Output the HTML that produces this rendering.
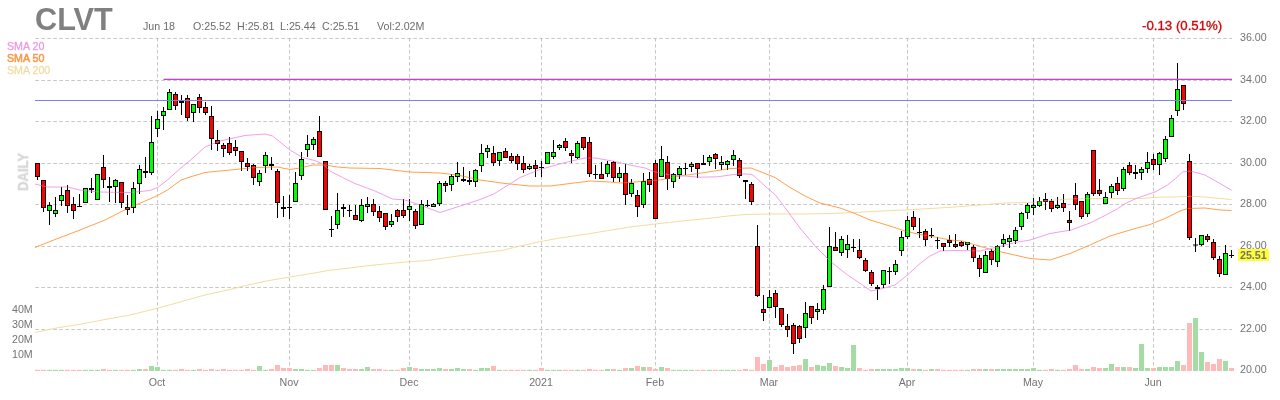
<!DOCTYPE html>
<html><head><meta charset="utf-8"><title>CLVT</title>
<style>
html,body{margin:0;padding:0;background:#fff;}
body{width:1280px;height:400px;position:relative;overflow:hidden;font-family:"Liberation Sans",sans-serif;}
div{position:absolute;white-space:nowrap;line-height:1;will-change:transform;}
.tk{left:35.2px;top:3.75px;font-size:30.67px;font-weight:bold;color:#808080;letter-spacing:0px;}
.hd{top:20.8px;font-size:10.67px;color:#6c6c6c;}
.chg{left:1141.5px;top:19px;font-size:13.25px;color:#cc0a0a;-webkit-text-stroke:0.35px #cc0a0a;}
.ax{left:1240px;font-size:10.67px;color:#737373;}
.mo{width:60px;text-align:center;top:376.8px;font-size:10.67px;color:#737373;}
.vl{left:12.2px;font-size:10.67px;color:#737373;}
.s{left:7px;font-size:10.67px;}
.daily{left:14.9px;top:191.1px;font-size:15px;font-weight:bold;color:#d9d9d9;-webkit-text-stroke:0.5px #d9d9d9;transform-origin:0 0;transform:rotate(-90deg) scaleX(0.875);}
.last{left:1238px;top:249px;width:31px;height:12px;background:#ffff33;}
.lastt{left:1240px;top:249.6px;font-size:10.67px;color:#737373;font-weight:bold;}
</style></head><body>
<svg width="1280" height="400" viewBox="0 0 1280 400" style="position:absolute;left:0;top:0">
<g stroke="#b9b9b9" stroke-width="0.8" stroke-dasharray="3.6,2.4" fill="none">
<path d="M35.3 38.5H1232"/>
<path d="M35.3 80.5H1232"/>
<path d="M35.3 121.5H1232"/>
<path d="M35.3 163.5H1232"/>
<path d="M35.3 204.5H1232"/>
<path d="M35.3 246.5H1232"/>
<path d="M35.3 287.5H1232"/>
<path d="M35.3 329.5H1232"/>
<path d="M35.3 370.5H1232"/>
<path d="M157.5 38V371"/>
<path d="M289.5 38V371"/>
<path d="M409.5 38V371"/>
<path d="M541.5 38V371"/>
<path d="M655.5 38V371"/>
<path d="M769.5 38V371"/>
<path d="M907.5 38V371"/>
<path d="M1033.5 38V371"/>
<path d="M1153.5 38V371"/>
</g>
<g shape-rendering="crispEdges">
<rect x="35" y="369.85" width="5" height="1.15" fill="#ffb9b9" shape-rendering="geometricPrecision"/>
<rect x="41" y="369.85" width="5" height="1.15" fill="#ffb9b9" shape-rendering="geometricPrecision"/>
<rect x="47" y="369.85" width="5" height="1.15" fill="#a5dca5" shape-rendering="geometricPrecision"/>
<rect x="53" y="369.85" width="5" height="1.15" fill="#a5dca5" shape-rendering="geometricPrecision"/>
<rect x="59" y="369.85" width="5" height="1.15" fill="#a5dca5" shape-rendering="geometricPrecision"/>
<rect x="65" y="369.85" width="5" height="1.15" fill="#ffb9b9" shape-rendering="geometricPrecision"/>
<rect x="71" y="369.85" width="5" height="1.15" fill="#ffb9b9" shape-rendering="geometricPrecision"/>
<rect x="77" y="369.85" width="5" height="1.15" fill="#ffb9b9" shape-rendering="geometricPrecision"/>
<rect x="83" y="369.85" width="5" height="1.15" fill="#a5dca5" shape-rendering="geometricPrecision"/>
<rect x="89" y="369.85" width="5" height="1.15" fill="#a5dca5" shape-rendering="geometricPrecision"/>
<rect x="95" y="369.85" width="5" height="1.15" fill="#a5dca5" shape-rendering="geometricPrecision"/>
<rect x="101" y="369" width="5" height="2" fill="#ffb9b9"/>
<rect x="107" y="369.85" width="5" height="1.15" fill="#ffb9b9" shape-rendering="geometricPrecision"/>
<rect x="113" y="369.85" width="5" height="1.15" fill="#a5dca5" shape-rendering="geometricPrecision"/>
<rect x="119" y="369.85" width="5" height="1.15" fill="#ffb9b9" shape-rendering="geometricPrecision"/>
<rect x="125" y="369.85" width="5" height="1.15" fill="#ffb9b9" shape-rendering="geometricPrecision"/>
<rect x="131" y="369.85" width="5" height="1.15" fill="#a5dca5" shape-rendering="geometricPrecision"/>
<rect x="137" y="369" width="5" height="2" fill="#a5dca5"/>
<rect x="143" y="369" width="5" height="2" fill="#ffb9b9"/>
<rect x="149" y="366" width="5" height="5" fill="#a5dca5"/>
<rect x="155" y="367" width="5" height="4" fill="#a5dca5"/>
<rect x="161" y="369.85" width="5" height="1.15" fill="#a5dca5" shape-rendering="geometricPrecision"/>
<rect x="167" y="369.85" width="5" height="1.15" fill="#a5dca5" shape-rendering="geometricPrecision"/>
<rect x="173" y="369.85" width="5" height="1.15" fill="#ffb9b9" shape-rendering="geometricPrecision"/>
<rect x="179" y="369" width="5" height="2" fill="#ffb9b9"/>
<rect x="185" y="369.85" width="5" height="1.15" fill="#ffb9b9" shape-rendering="geometricPrecision"/>
<rect x="191" y="369.85" width="5" height="1.15" fill="#a5dca5" shape-rendering="geometricPrecision"/>
<rect x="197" y="369" width="5" height="2" fill="#ffb9b9"/>
<rect x="203" y="369.85" width="5" height="1.15" fill="#ffb9b9" shape-rendering="geometricPrecision"/>
<rect x="209" y="369" width="5" height="2" fill="#ffb9b9"/>
<rect x="215" y="369.85" width="5" height="1.15" fill="#ffb9b9" shape-rendering="geometricPrecision"/>
<rect x="221" y="369" width="5" height="2" fill="#ffb9b9"/>
<rect x="227" y="369.85" width="5" height="1.15" fill="#ffb9b9" shape-rendering="geometricPrecision"/>
<rect x="233" y="369.85" width="5" height="1.15" fill="#ffb9b9" shape-rendering="geometricPrecision"/>
<rect x="239" y="369.85" width="5" height="1.15" fill="#ffb9b9" shape-rendering="geometricPrecision"/>
<rect x="245" y="369" width="5" height="2" fill="#ffb9b9"/>
<rect x="251" y="369.85" width="5" height="1.15" fill="#ffb9b9" shape-rendering="geometricPrecision"/>
<rect x="257" y="366" width="5" height="5" fill="#a5dca5"/>
<rect x="263" y="369.85" width="5" height="1.15" fill="#a5dca5" shape-rendering="geometricPrecision"/>
<rect x="269" y="369" width="5" height="2" fill="#ffb9b9"/>
<rect x="275" y="365" width="5" height="6" fill="#ffb9b9"/>
<rect x="281" y="368" width="5" height="3" fill="#ffb9b9"/>
<rect x="287" y="368" width="5" height="3" fill="#ffb9b9"/>
<rect x="293" y="369" width="5" height="2" fill="#a5dca5"/>
<rect x="299" y="369" width="5" height="2" fill="#a5dca5"/>
<rect x="305" y="369.85" width="5" height="1.15" fill="#a5dca5" shape-rendering="geometricPrecision"/>
<rect x="311" y="369.85" width="5" height="1.15" fill="#a5dca5" shape-rendering="geometricPrecision"/>
<rect x="317" y="368" width="5" height="3" fill="#ffb9b9"/>
<rect x="323" y="365" width="5" height="6" fill="#ffb9b9"/>
<rect x="329" y="365" width="5" height="6" fill="#ffb9b9"/>
<rect x="335" y="365" width="5" height="6" fill="#a5dca5"/>
<rect x="341" y="368" width="5" height="3" fill="#ffb9b9"/>
<rect x="347" y="369" width="5" height="2" fill="#ffb9b9"/>
<rect x="353" y="369" width="5" height="2" fill="#ffb9b9"/>
<rect x="359" y="369" width="5" height="2" fill="#a5dca5"/>
<rect x="365" y="367" width="5" height="4" fill="#a5dca5"/>
<rect x="371" y="369" width="5" height="2" fill="#ffb9b9"/>
<rect x="377" y="369" width="5" height="2" fill="#ffb9b9"/>
<rect x="383" y="369.85" width="5" height="1.15" fill="#ffb9b9" shape-rendering="geometricPrecision"/>
<rect x="389" y="369.85" width="5" height="1.15" fill="#a5dca5" shape-rendering="geometricPrecision"/>
<rect x="395" y="369.85" width="5" height="1.15" fill="#ffb9b9" shape-rendering="geometricPrecision"/>
<rect x="401" y="368" width="5" height="3" fill="#ffb9b9"/>
<rect x="407" y="367" width="5" height="4" fill="#a5dca5"/>
<rect x="413" y="368" width="5" height="3" fill="#ffb9b9"/>
<rect x="419" y="369" width="5" height="2" fill="#a5dca5"/>
<rect x="425" y="369" width="5" height="2" fill="#a5dca5"/>
<rect x="431" y="369" width="5" height="2" fill="#a5dca5"/>
<rect x="437" y="368" width="5" height="3" fill="#a5dca5"/>
<rect x="443" y="369" width="5" height="2" fill="#ffb9b9"/>
<rect x="449" y="369" width="5" height="2" fill="#a5dca5"/>
<rect x="455" y="368" width="5" height="3" fill="#a5dca5"/>
<rect x="461" y="369" width="5" height="2" fill="#a5dca5"/>
<rect x="467" y="369" width="5" height="2" fill="#ffb9b9"/>
<rect x="473" y="369.85" width="5" height="1.15" fill="#a5dca5" shape-rendering="geometricPrecision"/>
<rect x="479" y="368" width="5" height="3" fill="#a5dca5"/>
<rect x="485" y="368" width="5" height="3" fill="#a5dca5"/>
<rect x="491" y="366" width="5" height="5" fill="#ffb9b9"/>
<rect x="497" y="369.85" width="5" height="1.15" fill="#a5dca5" shape-rendering="geometricPrecision"/>
<rect x="503" y="369.85" width="5" height="1.15" fill="#ffb9b9" shape-rendering="geometricPrecision"/>
<rect x="509" y="369.85" width="5" height="1.15" fill="#ffb9b9" shape-rendering="geometricPrecision"/>
<rect x="515" y="369.85" width="5" height="1.15" fill="#ffb9b9" shape-rendering="geometricPrecision"/>
<rect x="521" y="369.85" width="5" height="1.15" fill="#ffb9b9" shape-rendering="geometricPrecision"/>
<rect x="527" y="369.85" width="5" height="1.15" fill="#a5dca5" shape-rendering="geometricPrecision"/>
<rect x="533" y="369.85" width="5" height="1.15" fill="#ffb9b9" shape-rendering="geometricPrecision"/>
<rect x="539" y="368" width="5" height="3" fill="#ffb9b9"/>
<rect x="545" y="369.85" width="5" height="1.15" fill="#a5dca5" shape-rendering="geometricPrecision"/>
<rect x="551" y="369.85" width="5" height="1.15" fill="#a5dca5" shape-rendering="geometricPrecision"/>
<rect x="557" y="369.85" width="5" height="1.15" fill="#a5dca5" shape-rendering="geometricPrecision"/>
<rect x="563" y="369.85" width="5" height="1.15" fill="#ffb9b9" shape-rendering="geometricPrecision"/>
<rect x="569" y="369.85" width="5" height="1.15" fill="#ffb9b9" shape-rendering="geometricPrecision"/>
<rect x="575" y="369.85" width="5" height="1.15" fill="#a5dca5" shape-rendering="geometricPrecision"/>
<rect x="581" y="369.85" width="5" height="1.15" fill="#ffb9b9" shape-rendering="geometricPrecision"/>
<rect x="587" y="369" width="5" height="2" fill="#ffb9b9"/>
<rect x="593" y="369.85" width="5" height="1.15" fill="#ffb9b9" shape-rendering="geometricPrecision"/>
<rect x="599" y="369.85" width="5" height="1.15" fill="#ffb9b9" shape-rendering="geometricPrecision"/>
<rect x="605" y="369" width="5" height="2" fill="#a5dca5"/>
<rect x="611" y="369" width="5" height="2" fill="#ffb9b9"/>
<rect x="617" y="369.85" width="5" height="1.15" fill="#a5dca5" shape-rendering="geometricPrecision"/>
<rect x="623" y="368" width="5" height="3" fill="#ffb9b9"/>
<rect x="629" y="368" width="5" height="3" fill="#a5dca5"/>
<rect x="635" y="366" width="5" height="5" fill="#ffb9b9"/>
<rect x="641" y="367" width="5" height="4" fill="#a5dca5"/>
<rect x="647" y="367" width="5" height="4" fill="#ffb9b9"/>
<rect x="653" y="369" width="5" height="2" fill="#ffb9b9"/>
<rect x="659" y="367" width="5" height="4" fill="#a5dca5"/>
<rect x="665" y="368" width="5" height="3" fill="#ffb9b9"/>
<rect x="671" y="369.85" width="5" height="1.15" fill="#a5dca5" shape-rendering="geometricPrecision"/>
<rect x="677" y="369.85" width="5" height="1.15" fill="#a5dca5" shape-rendering="geometricPrecision"/>
<rect x="683" y="369.85" width="5" height="1.15" fill="#a5dca5" shape-rendering="geometricPrecision"/>
<rect x="689" y="369.85" width="5" height="1.15" fill="#a5dca5" shape-rendering="geometricPrecision"/>
<rect x="695" y="369.85" width="5" height="1.15" fill="#ffb9b9" shape-rendering="geometricPrecision"/>
<rect x="701" y="369.85" width="5" height="1.15" fill="#ffb9b9" shape-rendering="geometricPrecision"/>
<rect x="707" y="369.85" width="5" height="1.15" fill="#a5dca5" shape-rendering="geometricPrecision"/>
<rect x="713" y="369.85" width="5" height="1.15" fill="#ffb9b9" shape-rendering="geometricPrecision"/>
<rect x="719" y="369.85" width="5" height="1.15" fill="#a5dca5" shape-rendering="geometricPrecision"/>
<rect x="725" y="369.85" width="5" height="1.15" fill="#a5dca5" shape-rendering="geometricPrecision"/>
<rect x="731" y="369.85" width="5" height="1.15" fill="#a5dca5" shape-rendering="geometricPrecision"/>
<rect x="737" y="369.85" width="5" height="1.15" fill="#ffb9b9" shape-rendering="geometricPrecision"/>
<rect x="743" y="369" width="5" height="2" fill="#ffb9b9"/>
<rect x="749" y="369.85" width="5" height="1.15" fill="#ffb9b9" shape-rendering="geometricPrecision"/>
<rect x="755" y="357" width="5" height="14" fill="#ffb9b9"/>
<rect x="761" y="364" width="5" height="7" fill="#ffb9b9"/>
<rect x="767" y="360" width="5" height="11" fill="#a5dca5"/>
<rect x="773" y="367" width="5" height="4" fill="#ffb9b9"/>
<rect x="779" y="365" width="5" height="6" fill="#ffb9b9"/>
<rect x="785" y="367" width="5" height="4" fill="#ffb9b9"/>
<rect x="791" y="366" width="5" height="5" fill="#ffb9b9"/>
<rect x="797" y="365" width="5" height="6" fill="#ffb9b9"/>
<rect x="803" y="359" width="5" height="12" fill="#a5dca5"/>
<rect x="809" y="367" width="5" height="4" fill="#ffb9b9"/>
<rect x="815" y="365" width="5" height="6" fill="#a5dca5"/>
<rect x="821" y="366" width="5" height="5" fill="#a5dca5"/>
<rect x="827" y="363" width="5" height="8" fill="#a5dca5"/>
<rect x="833" y="366" width="5" height="5" fill="#ffb9b9"/>
<rect x="839" y="367" width="5" height="4" fill="#a5dca5"/>
<rect x="845" y="368" width="5" height="3" fill="#a5dca5"/>
<rect x="851" y="345" width="5" height="26" fill="#a5dca5"/>
<rect x="857" y="368" width="5" height="3" fill="#ffb9b9"/>
<rect x="863" y="369.85" width="5" height="1.15" fill="#ffb9b9" shape-rendering="geometricPrecision"/>
<rect x="869" y="369" width="5" height="2" fill="#ffb9b9"/>
<rect x="875" y="369" width="5" height="2" fill="#a5dca5"/>
<rect x="881" y="369" width="5" height="2" fill="#a5dca5"/>
<rect x="887" y="369" width="5" height="2" fill="#a5dca5"/>
<rect x="893" y="369" width="5" height="2" fill="#a5dca5"/>
<rect x="899" y="368" width="5" height="3" fill="#a5dca5"/>
<rect x="905" y="368" width="5" height="3" fill="#a5dca5"/>
<rect x="911" y="369" width="5" height="2" fill="#ffb9b9"/>
<rect x="917" y="369" width="5" height="2" fill="#a5dca5"/>
<rect x="923" y="369.85" width="5" height="1.15" fill="#ffb9b9" shape-rendering="geometricPrecision"/>
<rect x="929" y="369" width="5" height="2" fill="#a5dca5"/>
<rect x="935" y="369" width="5" height="2" fill="#ffb9b9"/>
<rect x="941" y="369.85" width="5" height="1.15" fill="#ffb9b9" shape-rendering="geometricPrecision"/>
<rect x="947" y="369.85" width="5" height="1.15" fill="#ffb9b9" shape-rendering="geometricPrecision"/>
<rect x="953" y="369.85" width="5" height="1.15" fill="#ffb9b9" shape-rendering="geometricPrecision"/>
<rect x="959" y="369.85" width="5" height="1.15" fill="#ffb9b9" shape-rendering="geometricPrecision"/>
<rect x="965" y="369.85" width="5" height="1.15" fill="#a5dca5" shape-rendering="geometricPrecision"/>
<rect x="971" y="369" width="5" height="2" fill="#ffb9b9"/>
<rect x="977" y="369" width="5" height="2" fill="#ffb9b9"/>
<rect x="983" y="369" width="5" height="2" fill="#a5dca5"/>
<rect x="989" y="369" width="5" height="2" fill="#ffb9b9"/>
<rect x="995" y="369" width="5" height="2" fill="#a5dca5"/>
<rect x="1001" y="369" width="5" height="2" fill="#a5dca5"/>
<rect x="1007" y="369" width="5" height="2" fill="#a5dca5"/>
<rect x="1013" y="369" width="5" height="2" fill="#a5dca5"/>
<rect x="1019" y="369" width="5" height="2" fill="#a5dca5"/>
<rect x="1025" y="369" width="5" height="2" fill="#a5dca5"/>
<rect x="1031" y="368" width="5" height="3" fill="#a5dca5"/>
<rect x="1037" y="369.85" width="5" height="1.15" fill="#a5dca5" shape-rendering="geometricPrecision"/>
<rect x="1043" y="369.85" width="5" height="1.15" fill="#ffb9b9" shape-rendering="geometricPrecision"/>
<rect x="1049" y="369" width="5" height="2" fill="#ffb9b9"/>
<rect x="1055" y="369.85" width="5" height="1.15" fill="#a5dca5" shape-rendering="geometricPrecision"/>
<rect x="1061" y="369.85" width="5" height="1.15" fill="#ffb9b9" shape-rendering="geometricPrecision"/>
<rect x="1067" y="369" width="5" height="2" fill="#ffb9b9"/>
<rect x="1073" y="365" width="5" height="6" fill="#ffb9b9"/>
<rect x="1079" y="369" width="5" height="2" fill="#ffb9b9"/>
<rect x="1085" y="369" width="5" height="2" fill="#a5dca5"/>
<rect x="1091" y="367" width="5" height="4" fill="#ffb9b9"/>
<rect x="1097" y="368" width="5" height="3" fill="#ffb9b9"/>
<rect x="1103" y="368" width="5" height="3" fill="#a5dca5"/>
<rect x="1109" y="364" width="5" height="7" fill="#a5dca5"/>
<rect x="1115" y="367" width="5" height="4" fill="#ffb9b9"/>
<rect x="1121" y="367" width="5" height="4" fill="#a5dca5"/>
<rect x="1127" y="367" width="5" height="4" fill="#ffb9b9"/>
<rect x="1133" y="368" width="5" height="3" fill="#a5dca5"/>
<rect x="1139" y="344" width="5" height="27" fill="#a5dca5"/>
<rect x="1145" y="368" width="5" height="3" fill="#a5dca5"/>
<rect x="1151" y="368" width="5" height="3" fill="#ffb9b9"/>
<rect x="1157" y="367" width="5" height="4" fill="#a5dca5"/>
<rect x="1163" y="367" width="5" height="4" fill="#a5dca5"/>
<rect x="1169" y="367" width="5" height="4" fill="#a5dca5"/>
<rect x="1175" y="361" width="5" height="10" fill="#a5dca5"/>
<rect x="1181" y="365" width="5" height="6" fill="#ffb9b9"/>
<rect x="1187" y="323" width="5" height="48" fill="#ffb9b9"/>
<rect x="1193" y="318" width="5" height="53" fill="#a5dca5"/>
<rect x="1199" y="352" width="5" height="19" fill="#a5dca5"/>
<rect x="1205" y="362" width="5" height="9" fill="#ffb9b9"/>
<rect x="1211" y="364" width="5" height="7" fill="#ffb9b9"/>
<rect x="1217" y="359" width="5" height="12" fill="#ffb9b9"/>
<rect x="1223" y="361" width="5" height="10" fill="#a5dca5"/>
<rect x="1229" y="368" width="5" height="3" fill="#ffb9b9"/>
</g>
<path d="M35 332.5 L55 328.25 L80 324.25 L105 319.5 L130 315 L157.5 308.25 L180 302 L205 295 L230 289.5 L242.5 286.25 L267.5 280.75 L290 277 L310 273.75 L330 270.2 L340 269.2 L365 266 L390 263.5 L410 261.7 L427.5 260.5 L452.5 256.7 L477.5 253.4 L502.5 250.4 L515 247.2 L540 241.7 L557.5 238.4 L590 233.6 L600 231.9 L630 227 L655 224 L680 221.2 L705 218.8 L730 215.8 L745 214.5 L770 214 L805 214 L830 213.5 L855 212.5 L880 211 L905 210 L930 208.5 L955 207 L980 205 L1005 203 L1030 202.6 L1055 200 L1074 198.8 L1105 198.5 L1142 198.5 L1155 197.3 L1174 196.9 L1190 196.3 L1205 197 L1231.6 199.6" fill="none" stroke="#f2d998" stroke-width="0.92" stroke-linejoin="round"/>
<path d="M35 247.5 L53.75 240 L80 230 L105 220 L127.5 208.5 L147.5 200 L157.5 195.5 L167.5 190 L181 180 L190 177 L205 172.5 L230 170 L255 167.5 L277.5 167 L290 169.5 L300 168 L312.5 165 L325 165 L337.5 167 L350 168 L380 168.5 L410 172 L440 173 L460 175.5 L480 180 L505 183.5 L530 186 L550 186 L570 183.5 L590 181 L610 182 L620 183 L635 182 L645 181 L660 180 L680 176 L705 172.5 L730 168.5 L751 168 L762.5 172.5 L775 177.5 L790 187.5 L805 196 L820 203 L840 208 L855 213.5 L870 220 L890 226 L905 231 L920 234.5 L935 237 L950 240 L962.5 241 L992.5 250 L1030 258.5 L1050 260 L1070 253.5 L1090 245 L1110 236 L1130 230 L1150 224.5 L1165 218.5 L1180 211 L1187.5 208.5 L1205 208 L1220 210 L1231.6 210.5" fill="none" stroke="#ff9840" stroke-width="0.92" stroke-linejoin="round"/>
<path d="M35 184 L41 185.5 L47.5 187 L67.5 187 L80 190 L100 192 L130 192.5 L150 190.5 L157.5 187.5 L167.5 180 L180 168.75 L190 160.6 L205 147 L220 141 L245 135.5 L265 134 L272.5 136 L290 150 L302.5 157.5 L315 160.6 L322.5 163.75 L330 171 L342.5 177.5 L355 183.5 L375 191 L392.5 199 L405 200 L420 205 L440 212.5 L465 204.5 L480 199.5 L493.75 194 L508.75 184.7 L520 177.5 L540 169.5 L555 165.3 L570 161.3 L585 158 L595 158 L612.5 161 L630 165 L645 168 L655 172 L670 175 L687.5 176.3 L700 177.2 L717.5 176.8 L730 175 L740 173.8 L750 174.25 L753 175 L765 186 L775 194.5 L785 207.5 L800 228 L815 246 L830 261 L847.5 275 L862.5 285 L871 291 L882.5 288.5 L895 285 L907.5 275 L920 263.5 L930 256 L940 251 L955 250.5 L980 251 L995 247.5 L1015 242.5 L1030 240 L1050 233.5 L1071 230 L1090 223 L1105 215.5 L1117.5 208.75 L1125 203.75 L1136 198.5 L1155 192 L1167.5 185 L1173.75 180 L1182.5 172 L1190 171 L1205 175 L1220 183.5 L1231.6 190.3" fill="none" stroke="#ef98e5" stroke-width="0.92" stroke-linejoin="round"/>
<g shape-rendering="crispEdges">
<rect x="37" y="163" width="1" height="17" fill="#000"/>
<rect x="35" y="163" width="5" height="14" fill="#000"/>
<rect x="36" y="164" width="3" height="12" fill="#ff0000"/>
<rect x="43" y="180" width="1" height="32" fill="#000"/>
<rect x="41" y="180" width="5" height="28" fill="#000"/>
<rect x="42" y="181" width="3" height="26" fill="#ff0000"/>
<rect x="49" y="202" width="1" height="23" fill="#000"/>
<rect x="47" y="205" width="5" height="6" fill="#000"/>
<rect x="48" y="206" width="3" height="4" fill="#00ff00"/>
<rect x="55" y="197" width="1" height="20" fill="#000"/>
<rect x="53" y="210" width="5" height="4" fill="#000"/>
<rect x="54" y="211" width="3" height="2" fill="#00ff00"/>
<rect x="61" y="187" width="1" height="19" fill="#000"/>
<rect x="59" y="195" width="5" height="6" fill="#000"/>
<rect x="60" y="196" width="3" height="4" fill="#00ff00"/>
<rect x="67" y="185" width="1" height="28" fill="#000"/>
<rect x="65" y="190" width="5" height="16" fill="#000"/>
<rect x="66" y="191" width="3" height="14" fill="#ff0000"/>
<rect x="73" y="197" width="1" height="22" fill="#000"/>
<rect x="71" y="204" width="5" height="7" fill="#000"/>
<rect x="72" y="205" width="3" height="5" fill="#ff0000"/>
<rect x="79" y="194" width="1" height="13" fill="#000"/>
<rect x="77" y="206" width="5" height="1" fill="#000"/>
<rect x="85" y="188" width="1" height="15" fill="#000"/>
<rect x="83" y="188" width="5" height="15" fill="#000"/>
<rect x="84" y="189" width="3" height="13" fill="#00ff00"/>
<rect x="91" y="178" width="1" height="15" fill="#000"/>
<rect x="89" y="188" width="5" height="2" fill="#000"/>
<rect x="97" y="174" width="1" height="26" fill="#000"/>
<rect x="95" y="174" width="5" height="26" fill="#000"/>
<rect x="96" y="175" width="3" height="24" fill="#00ff00"/>
<rect x="103" y="155" width="1" height="33" fill="#000"/>
<rect x="101" y="167" width="5" height="13" fill="#000"/>
<rect x="102" y="168" width="3" height="11" fill="#ff0000"/>
<rect x="109" y="177" width="1" height="25" fill="#000"/>
<rect x="107" y="186" width="5" height="2" fill="#000"/>
<rect x="115" y="179" width="1" height="24" fill="#000"/>
<rect x="113" y="180" width="5" height="7" fill="#000"/>
<rect x="114" y="181" width="3" height="5" fill="#00ff00"/>
<rect x="121" y="182" width="1" height="26" fill="#000"/>
<rect x="119" y="182" width="5" height="21" fill="#000"/>
<rect x="120" y="183" width="3" height="19" fill="#ff0000"/>
<rect x="127" y="195" width="1" height="20" fill="#000"/>
<rect x="125" y="207" width="5" height="3" fill="#000"/>
<rect x="126" y="208" width="3" height="1" fill="#ff0000"/>
<rect x="133" y="182" width="1" height="31" fill="#000"/>
<rect x="131" y="188" width="5" height="20" fill="#000"/>
<rect x="132" y="189" width="3" height="18" fill="#00ff00"/>
<rect x="139" y="165" width="1" height="29" fill="#000"/>
<rect x="137" y="169" width="5" height="15" fill="#000"/>
<rect x="138" y="170" width="3" height="13" fill="#00ff00"/>
<rect x="145" y="157" width="1" height="21" fill="#000"/>
<rect x="143" y="171" width="5" height="2" fill="#000"/>
<rect x="151" y="116" width="1" height="59" fill="#000"/>
<rect x="149" y="142" width="5" height="31" fill="#000"/>
<rect x="150" y="143" width="3" height="29" fill="#00ff00"/>
<rect x="157" y="111" width="1" height="26" fill="#000"/>
<rect x="155" y="119" width="5" height="10" fill="#000"/>
<rect x="156" y="120" width="3" height="8" fill="#00ff00"/>
<rect x="163" y="107" width="1" height="23" fill="#000"/>
<rect x="161" y="111" width="5" height="5" fill="#000"/>
<rect x="162" y="112" width="3" height="3" fill="#00ff00"/>
<rect x="169" y="89" width="1" height="21" fill="#000"/>
<rect x="167" y="92" width="5" height="18" fill="#000"/>
<rect x="168" y="93" width="3" height="16" fill="#00ff00"/>
<rect x="175" y="92" width="1" height="18" fill="#000"/>
<rect x="173" y="94" width="5" height="12" fill="#000"/>
<rect x="174" y="95" width="3" height="10" fill="#ff0000"/>
<rect x="181" y="95" width="1" height="20" fill="#000"/>
<rect x="179" y="101" width="5" height="2" fill="#000"/>
<rect x="187" y="95" width="1" height="26" fill="#000"/>
<rect x="185" y="98" width="5" height="20" fill="#000"/>
<rect x="186" y="99" width="3" height="18" fill="#ff0000"/>
<rect x="193" y="104" width="1" height="18" fill="#000"/>
<rect x="191" y="104" width="5" height="9" fill="#000"/>
<rect x="192" y="105" width="3" height="7" fill="#00ff00"/>
<rect x="199" y="94" width="1" height="19" fill="#000"/>
<rect x="197" y="97" width="5" height="11" fill="#000"/>
<rect x="198" y="98" width="3" height="9" fill="#ff0000"/>
<rect x="205" y="102" width="1" height="13" fill="#000"/>
<rect x="203" y="107" width="5" height="6" fill="#000"/>
<rect x="204" y="108" width="3" height="4" fill="#ff0000"/>
<rect x="211" y="106" width="1" height="44" fill="#000"/>
<rect x="209" y="116" width="5" height="23" fill="#000"/>
<rect x="210" y="117" width="3" height="21" fill="#ff0000"/>
<rect x="217" y="130" width="1" height="21" fill="#000"/>
<rect x="215" y="140" width="5" height="4" fill="#000"/>
<rect x="216" y="141" width="3" height="2" fill="#ff0000"/>
<rect x="223" y="143" width="1" height="14" fill="#000"/>
<rect x="221" y="145" width="5" height="4" fill="#000"/>
<rect x="222" y="146" width="3" height="2" fill="#ff0000"/>
<rect x="229" y="137" width="1" height="18" fill="#000"/>
<rect x="227" y="143" width="5" height="10" fill="#000"/>
<rect x="228" y="144" width="3" height="8" fill="#ff0000"/>
<rect x="235" y="140" width="1" height="16" fill="#000"/>
<rect x="233" y="147" width="5" height="4" fill="#000"/>
<rect x="234" y="148" width="3" height="2" fill="#ff0000"/>
<rect x="241" y="151" width="1" height="20" fill="#000"/>
<rect x="239" y="151" width="5" height="11" fill="#000"/>
<rect x="240" y="152" width="3" height="9" fill="#ff0000"/>
<rect x="247" y="158" width="1" height="13" fill="#000"/>
<rect x="245" y="163" width="5" height="4" fill="#000"/>
<rect x="246" y="164" width="3" height="2" fill="#ff0000"/>
<rect x="253" y="164" width="1" height="21" fill="#000"/>
<rect x="251" y="165" width="5" height="13" fill="#000"/>
<rect x="252" y="166" width="3" height="11" fill="#ff0000"/>
<rect x="259" y="170" width="1" height="16" fill="#000"/>
<rect x="257" y="173" width="5" height="9" fill="#000"/>
<rect x="258" y="174" width="3" height="7" fill="#00ff00"/>
<rect x="265" y="152" width="1" height="21" fill="#000"/>
<rect x="263" y="155" width="5" height="11" fill="#000"/>
<rect x="264" y="156" width="3" height="9" fill="#00ff00"/>
<rect x="271" y="157" width="1" height="13" fill="#000"/>
<rect x="269" y="164" width="5" height="2" fill="#000"/>
<rect x="277" y="169" width="1" height="49" fill="#000"/>
<rect x="275" y="171" width="5" height="32" fill="#000"/>
<rect x="276" y="172" width="3" height="30" fill="#ff0000"/>
<rect x="283" y="196" width="1" height="21" fill="#000"/>
<rect x="281" y="207" width="5" height="2" fill="#000"/>
<rect x="289" y="195" width="1" height="24" fill="#000"/>
<rect x="287" y="207" width="5" height="1" fill="#000"/>
<rect x="295" y="172" width="1" height="30" fill="#000"/>
<rect x="293" y="183" width="5" height="19" fill="#000"/>
<rect x="294" y="184" width="3" height="17" fill="#00ff00"/>
<rect x="301" y="152" width="1" height="28" fill="#000"/>
<rect x="299" y="159" width="5" height="17" fill="#000"/>
<rect x="300" y="160" width="3" height="15" fill="#00ff00"/>
<rect x="307" y="135" width="1" height="22" fill="#000"/>
<rect x="305" y="144" width="5" height="6" fill="#000"/>
<rect x="306" y="145" width="3" height="4" fill="#00ff00"/>
<rect x="313" y="137" width="1" height="13" fill="#000"/>
<rect x="311" y="139" width="5" height="6" fill="#000"/>
<rect x="312" y="140" width="3" height="4" fill="#00ff00"/>
<rect x="319" y="116" width="1" height="41" fill="#000"/>
<rect x="317" y="131" width="5" height="26" fill="#000"/>
<rect x="318" y="132" width="3" height="24" fill="#ff0000"/>
<rect x="325" y="161" width="1" height="49" fill="#000"/>
<rect x="323" y="161" width="5" height="49" fill="#000"/>
<rect x="324" y="162" width="3" height="47" fill="#ff0000"/>
<rect x="331" y="216" width="1" height="21" fill="#000"/>
<rect x="329" y="229" width="5" height="1" fill="#000"/>
<rect x="337" y="193" width="1" height="36" fill="#000"/>
<rect x="335" y="210" width="5" height="15" fill="#000"/>
<rect x="336" y="211" width="3" height="13" fill="#00ff00"/>
<rect x="343" y="204" width="1" height="13" fill="#000"/>
<rect x="341" y="207" width="5" height="2" fill="#000"/>
<rect x="349" y="205" width="1" height="12" fill="#000"/>
<rect x="347" y="210" width="5" height="1" fill="#000"/>
<rect x="355" y="205" width="1" height="15" fill="#000"/>
<rect x="353" y="215" width="5" height="5" fill="#000"/>
<rect x="354" y="216" width="3" height="3" fill="#ff0000"/>
<rect x="361" y="199" width="1" height="23" fill="#000"/>
<rect x="359" y="205" width="5" height="16" fill="#000"/>
<rect x="360" y="206" width="3" height="14" fill="#00ff00"/>
<rect x="367" y="197" width="1" height="16" fill="#000"/>
<rect x="365" y="204" width="5" height="3" fill="#000"/>
<rect x="366" y="205" width="3" height="1" fill="#00ff00"/>
<rect x="373" y="199" width="1" height="17" fill="#000"/>
<rect x="371" y="204" width="5" height="8" fill="#000"/>
<rect x="372" y="205" width="3" height="6" fill="#ff0000"/>
<rect x="379" y="206" width="1" height="16" fill="#000"/>
<rect x="377" y="211" width="5" height="7" fill="#000"/>
<rect x="378" y="212" width="3" height="5" fill="#ff0000"/>
<rect x="385" y="213" width="1" height="17" fill="#000"/>
<rect x="383" y="213" width="5" height="14" fill="#000"/>
<rect x="384" y="214" width="3" height="12" fill="#ff0000"/>
<rect x="391" y="214" width="1" height="13" fill="#000"/>
<rect x="389" y="221" width="5" height="4" fill="#000"/>
<rect x="390" y="222" width="3" height="2" fill="#00ff00"/>
<rect x="397" y="209" width="1" height="13" fill="#000"/>
<rect x="395" y="210" width="5" height="7" fill="#000"/>
<rect x="396" y="211" width="3" height="5" fill="#ff0000"/>
<rect x="403" y="199" width="1" height="19" fill="#000"/>
<rect x="401" y="210" width="5" height="6" fill="#000"/>
<rect x="402" y="211" width="3" height="4" fill="#ff0000"/>
<rect x="409" y="199" width="1" height="22" fill="#000"/>
<rect x="407" y="206" width="5" height="4" fill="#000"/>
<rect x="408" y="207" width="3" height="2" fill="#00ff00"/>
<rect x="415" y="209" width="1" height="20" fill="#000"/>
<rect x="413" y="211" width="5" height="15" fill="#000"/>
<rect x="414" y="212" width="3" height="13" fill="#ff0000"/>
<rect x="421" y="200" width="1" height="25" fill="#000"/>
<rect x="419" y="204" width="5" height="21" fill="#000"/>
<rect x="420" y="205" width="3" height="19" fill="#00ff00"/>
<rect x="427" y="200" width="1" height="7" fill="#000"/>
<rect x="425" y="205" width="5" height="1" fill="#000"/>
<rect x="433" y="203" width="1" height="4" fill="#000"/>
<rect x="431" y="204" width="5" height="3" fill="#000"/>
<rect x="432" y="205" width="3" height="1" fill="#00ff00"/>
<rect x="439" y="181" width="1" height="25" fill="#000"/>
<rect x="437" y="183" width="5" height="21" fill="#000"/>
<rect x="438" y="184" width="3" height="19" fill="#00ff00"/>
<rect x="445" y="181" width="1" height="11" fill="#000"/>
<rect x="443" y="183" width="5" height="3" fill="#000"/>
<rect x="444" y="184" width="3" height="1" fill="#ff0000"/>
<rect x="451" y="174" width="1" height="17" fill="#000"/>
<rect x="449" y="176" width="5" height="9" fill="#000"/>
<rect x="450" y="177" width="3" height="7" fill="#00ff00"/>
<rect x="457" y="162" width="1" height="20" fill="#000"/>
<rect x="455" y="173" width="5" height="4" fill="#000"/>
<rect x="456" y="174" width="3" height="2" fill="#00ff00"/>
<rect x="463" y="167" width="1" height="15" fill="#000"/>
<rect x="461" y="179" width="5" height="2" fill="#000"/>
<rect x="469" y="171" width="1" height="14" fill="#000"/>
<rect x="467" y="180" width="5" height="2" fill="#000"/>
<rect x="475" y="169" width="1" height="18" fill="#000"/>
<rect x="473" y="170" width="5" height="12" fill="#000"/>
<rect x="474" y="171" width="3" height="10" fill="#00ff00"/>
<rect x="481" y="144" width="1" height="28" fill="#000"/>
<rect x="479" y="153" width="5" height="13" fill="#000"/>
<rect x="480" y="154" width="3" height="11" fill="#00ff00"/>
<rect x="487" y="145" width="1" height="13" fill="#000"/>
<rect x="485" y="148" width="5" height="4" fill="#000"/>
<rect x="486" y="149" width="3" height="2" fill="#00ff00"/>
<rect x="493" y="146" width="1" height="20" fill="#000"/>
<rect x="491" y="153" width="5" height="10" fill="#000"/>
<rect x="492" y="154" width="3" height="8" fill="#ff0000"/>
<rect x="499" y="152" width="1" height="14" fill="#000"/>
<rect x="497" y="152" width="5" height="9" fill="#000"/>
<rect x="498" y="153" width="3" height="7" fill="#00ff00"/>
<rect x="505" y="148" width="1" height="10" fill="#000"/>
<rect x="503" y="151" width="5" height="7" fill="#000"/>
<rect x="504" y="152" width="3" height="5" fill="#ff0000"/>
<rect x="511" y="153" width="1" height="10" fill="#000"/>
<rect x="509" y="156" width="5" height="5" fill="#000"/>
<rect x="510" y="157" width="3" height="3" fill="#ff0000"/>
<rect x="517" y="154" width="1" height="16" fill="#000"/>
<rect x="515" y="156" width="5" height="8" fill="#000"/>
<rect x="516" y="157" width="3" height="6" fill="#ff0000"/>
<rect x="523" y="156" width="1" height="17" fill="#000"/>
<rect x="521" y="163" width="5" height="7" fill="#000"/>
<rect x="522" y="164" width="3" height="5" fill="#ff0000"/>
<rect x="529" y="164" width="1" height="6" fill="#000"/>
<rect x="527" y="166" width="5" height="3" fill="#000"/>
<rect x="528" y="167" width="3" height="1" fill="#00ff00"/>
<rect x="535" y="160" width="1" height="17" fill="#000"/>
<rect x="533" y="165" width="5" height="4" fill="#000"/>
<rect x="534" y="166" width="3" height="2" fill="#ff0000"/>
<rect x="541" y="161" width="1" height="16" fill="#000"/>
<rect x="539" y="167" width="5" height="1" fill="#000"/>
<rect x="547" y="152" width="1" height="12" fill="#000"/>
<rect x="545" y="152" width="5" height="12" fill="#000"/>
<rect x="546" y="153" width="3" height="10" fill="#00ff00"/>
<rect x="553" y="140" width="1" height="19" fill="#000"/>
<rect x="551" y="152" width="5" height="5" fill="#000"/>
<rect x="552" y="153" width="3" height="3" fill="#00ff00"/>
<rect x="559" y="144" width="1" height="6" fill="#000"/>
<rect x="557" y="145" width="5" height="3" fill="#000"/>
<rect x="558" y="146" width="3" height="1" fill="#00ff00"/>
<rect x="565" y="138" width="1" height="13" fill="#000"/>
<rect x="563" y="141" width="5" height="7" fill="#000"/>
<rect x="564" y="142" width="3" height="5" fill="#ff0000"/>
<rect x="571" y="150" width="1" height="13" fill="#000"/>
<rect x="569" y="153" width="5" height="3" fill="#000"/>
<rect x="570" y="154" width="3" height="1" fill="#ff0000"/>
<rect x="577" y="141" width="1" height="18" fill="#000"/>
<rect x="575" y="143" width="5" height="15" fill="#000"/>
<rect x="576" y="144" width="3" height="13" fill="#00ff00"/>
<rect x="583" y="137" width="1" height="13" fill="#000"/>
<rect x="581" y="137" width="5" height="11" fill="#000"/>
<rect x="582" y="138" width="3" height="9" fill="#ff0000"/>
<rect x="589" y="137" width="1" height="40" fill="#000"/>
<rect x="587" y="142" width="5" height="32" fill="#000"/>
<rect x="588" y="143" width="3" height="30" fill="#ff0000"/>
<rect x="595" y="165" width="1" height="14" fill="#000"/>
<rect x="593" y="174" width="5" height="1" fill="#000"/>
<rect x="601" y="162" width="1" height="17" fill="#000"/>
<rect x="599" y="174" width="5" height="5" fill="#000"/>
<rect x="600" y="175" width="3" height="3" fill="#ff0000"/>
<rect x="607" y="161" width="1" height="16" fill="#000"/>
<rect x="605" y="164" width="5" height="10" fill="#000"/>
<rect x="606" y="165" width="3" height="8" fill="#00ff00"/>
<rect x="613" y="161" width="1" height="21" fill="#000"/>
<rect x="611" y="162" width="5" height="16" fill="#000"/>
<rect x="612" y="163" width="3" height="14" fill="#ff0000"/>
<rect x="619" y="167" width="1" height="15" fill="#000"/>
<rect x="617" y="173" width="5" height="5" fill="#000"/>
<rect x="618" y="174" width="3" height="3" fill="#00ff00"/>
<rect x="625" y="164" width="1" height="41" fill="#000"/>
<rect x="623" y="173" width="5" height="22" fill="#000"/>
<rect x="624" y="174" width="3" height="20" fill="#ff0000"/>
<rect x="631" y="179" width="1" height="18" fill="#000"/>
<rect x="629" y="183" width="5" height="11" fill="#000"/>
<rect x="630" y="184" width="3" height="9" fill="#00ff00"/>
<rect x="637" y="190" width="1" height="27" fill="#000"/>
<rect x="635" y="195" width="5" height="12" fill="#000"/>
<rect x="636" y="196" width="3" height="10" fill="#ff0000"/>
<rect x="643" y="173" width="1" height="35" fill="#000"/>
<rect x="641" y="181" width="5" height="24" fill="#000"/>
<rect x="642" y="182" width="3" height="22" fill="#00ff00"/>
<rect x="649" y="172" width="1" height="20" fill="#000"/>
<rect x="647" y="179" width="5" height="6" fill="#000"/>
<rect x="648" y="180" width="3" height="4" fill="#ff0000"/>
<rect x="655" y="160" width="1" height="59" fill="#000"/>
<rect x="653" y="163" width="5" height="56" fill="#000"/>
<rect x="654" y="164" width="3" height="54" fill="#ff0000"/>
<rect x="661" y="146" width="1" height="31" fill="#000"/>
<rect x="659" y="159" width="5" height="18" fill="#000"/>
<rect x="660" y="160" width="3" height="16" fill="#00ff00"/>
<rect x="667" y="156" width="1" height="34" fill="#000"/>
<rect x="665" y="162" width="5" height="17" fill="#000"/>
<rect x="666" y="163" width="3" height="15" fill="#ff0000"/>
<rect x="673" y="173" width="1" height="15" fill="#000"/>
<rect x="671" y="174" width="5" height="8" fill="#000"/>
<rect x="672" y="175" width="3" height="6" fill="#00ff00"/>
<rect x="679" y="166" width="1" height="13" fill="#000"/>
<rect x="677" y="168" width="5" height="7" fill="#000"/>
<rect x="678" y="169" width="3" height="5" fill="#00ff00"/>
<rect x="685" y="163" width="1" height="12" fill="#000"/>
<rect x="683" y="168" width="5" height="1" fill="#000"/>
<rect x="691" y="162" width="1" height="10" fill="#000"/>
<rect x="689" y="164" width="5" height="3" fill="#000"/>
<rect x="690" y="165" width="3" height="1" fill="#00ff00"/>
<rect x="697" y="163" width="1" height="15" fill="#000"/>
<rect x="695" y="163" width="5" height="6" fill="#000"/>
<rect x="696" y="164" width="3" height="4" fill="#ff0000"/>
<rect x="703" y="155" width="1" height="10" fill="#000"/>
<rect x="701" y="163" width="5" height="2" fill="#000"/>
<rect x="709" y="155" width="1" height="11" fill="#000"/>
<rect x="707" y="157" width="5" height="5" fill="#000"/>
<rect x="708" y="158" width="3" height="3" fill="#00ff00"/>
<rect x="715" y="153" width="1" height="16" fill="#000"/>
<rect x="713" y="154" width="5" height="5" fill="#000"/>
<rect x="714" y="155" width="3" height="3" fill="#ff0000"/>
<rect x="721" y="156" width="1" height="14" fill="#000"/>
<rect x="719" y="162" width="5" height="3" fill="#000"/>
<rect x="720" y="163" width="3" height="1" fill="#00ff00"/>
<rect x="727" y="160" width="1" height="10" fill="#000"/>
<rect x="725" y="161" width="5" height="4" fill="#000"/>
<rect x="726" y="162" width="3" height="2" fill="#00ff00"/>
<rect x="733" y="150" width="1" height="16" fill="#000"/>
<rect x="731" y="155" width="5" height="5" fill="#000"/>
<rect x="732" y="156" width="3" height="3" fill="#00ff00"/>
<rect x="739" y="158" width="1" height="20" fill="#000"/>
<rect x="737" y="160" width="5" height="16" fill="#000"/>
<rect x="738" y="161" width="3" height="14" fill="#ff0000"/>
<rect x="745" y="181" width="1" height="18" fill="#000"/>
<rect x="743" y="180" width="5" height="2" fill="#000"/>
<rect x="751" y="182" width="1" height="23" fill="#000"/>
<rect x="749" y="184" width="5" height="18" fill="#000"/>
<rect x="750" y="185" width="3" height="16" fill="#ff0000"/>
<rect x="757" y="225" width="1" height="72" fill="#000"/>
<rect x="755" y="246" width="5" height="50" fill="#000"/>
<rect x="756" y="247" width="3" height="48" fill="#ff0000"/>
<rect x="763" y="295" width="1" height="26" fill="#000"/>
<rect x="761" y="309" width="5" height="4" fill="#000"/>
<rect x="762" y="310" width="3" height="2" fill="#ff0000"/>
<rect x="769" y="290" width="1" height="18" fill="#000"/>
<rect x="767" y="297" width="5" height="11" fill="#000"/>
<rect x="768" y="298" width="3" height="9" fill="#00ff00"/>
<rect x="775" y="290" width="1" height="28" fill="#000"/>
<rect x="773" y="293" width="5" height="14" fill="#000"/>
<rect x="774" y="294" width="3" height="12" fill="#ff0000"/>
<rect x="781" y="308" width="1" height="19" fill="#000"/>
<rect x="779" y="308" width="5" height="17" fill="#000"/>
<rect x="780" y="309" width="3" height="15" fill="#ff0000"/>
<rect x="787" y="314" width="1" height="23" fill="#000"/>
<rect x="785" y="326" width="5" height="4" fill="#000"/>
<rect x="786" y="327" width="3" height="2" fill="#ff0000"/>
<rect x="793" y="323" width="1" height="31" fill="#000"/>
<rect x="791" y="325" width="5" height="19" fill="#000"/>
<rect x="792" y="326" width="3" height="17" fill="#ff0000"/>
<rect x="799" y="325" width="1" height="18" fill="#000"/>
<rect x="797" y="326" width="5" height="13" fill="#000"/>
<rect x="798" y="327" width="3" height="11" fill="#ff0000"/>
<rect x="805" y="302" width="1" height="36" fill="#000"/>
<rect x="803" y="313" width="5" height="15" fill="#000"/>
<rect x="804" y="314" width="3" height="13" fill="#00ff00"/>
<rect x="811" y="306" width="1" height="18" fill="#000"/>
<rect x="809" y="306" width="5" height="12" fill="#000"/>
<rect x="810" y="307" width="3" height="10" fill="#ff0000"/>
<rect x="817" y="303" width="1" height="17" fill="#000"/>
<rect x="815" y="309" width="5" height="3" fill="#000"/>
<rect x="816" y="310" width="3" height="1" fill="#00ff00"/>
<rect x="823" y="285" width="1" height="29" fill="#000"/>
<rect x="821" y="289" width="5" height="21" fill="#000"/>
<rect x="822" y="290" width="3" height="19" fill="#00ff00"/>
<rect x="829" y="227" width="1" height="60" fill="#000"/>
<rect x="827" y="246" width="5" height="41" fill="#000"/>
<rect x="828" y="247" width="3" height="39" fill="#00ff00"/>
<rect x="835" y="232" width="1" height="19" fill="#000"/>
<rect x="833" y="247" width="5" height="4" fill="#000"/>
<rect x="834" y="248" width="3" height="2" fill="#ff0000"/>
<rect x="841" y="236" width="1" height="20" fill="#000"/>
<rect x="839" y="239" width="5" height="14" fill="#000"/>
<rect x="840" y="240" width="3" height="12" fill="#00ff00"/>
<rect x="847" y="235" width="1" height="23" fill="#000"/>
<rect x="845" y="244" width="5" height="6" fill="#000"/>
<rect x="846" y="245" width="3" height="4" fill="#00ff00"/>
<rect x="853" y="239" width="1" height="13" fill="#000"/>
<rect x="851" y="247" width="5" height="1" fill="#000"/>
<rect x="859" y="239" width="1" height="20" fill="#000"/>
<rect x="857" y="250" width="5" height="8" fill="#000"/>
<rect x="858" y="251" width="3" height="6" fill="#ff0000"/>
<rect x="865" y="258" width="1" height="14" fill="#000"/>
<rect x="863" y="260" width="5" height="11" fill="#000"/>
<rect x="864" y="261" width="3" height="9" fill="#ff0000"/>
<rect x="871" y="270" width="1" height="16" fill="#000"/>
<rect x="869" y="272" width="5" height="12" fill="#000"/>
<rect x="870" y="273" width="3" height="10" fill="#ff0000"/>
<rect x="877" y="285" width="1" height="15" fill="#000"/>
<rect x="875" y="287" width="5" height="2" fill="#000"/>
<rect x="883" y="270" width="1" height="18" fill="#000"/>
<rect x="881" y="270" width="5" height="15" fill="#000"/>
<rect x="882" y="271" width="3" height="13" fill="#00ff00"/>
<rect x="889" y="267" width="1" height="17" fill="#000"/>
<rect x="887" y="271" width="5" height="1" fill="#000"/>
<rect x="895" y="260" width="1" height="15" fill="#000"/>
<rect x="893" y="264" width="5" height="8" fill="#000"/>
<rect x="894" y="265" width="3" height="6" fill="#00ff00"/>
<rect x="901" y="231" width="1" height="25" fill="#000"/>
<rect x="899" y="237" width="5" height="14" fill="#000"/>
<rect x="900" y="238" width="3" height="12" fill="#00ff00"/>
<rect x="907" y="216" width="1" height="23" fill="#000"/>
<rect x="905" y="220" width="5" height="17" fill="#000"/>
<rect x="906" y="221" width="3" height="15" fill="#00ff00"/>
<rect x="913" y="211" width="1" height="19" fill="#000"/>
<rect x="911" y="217" width="5" height="10" fill="#000"/>
<rect x="912" y="218" width="3" height="8" fill="#ff0000"/>
<rect x="919" y="218" width="1" height="20" fill="#000"/>
<rect x="917" y="232" width="5" height="1" fill="#000"/>
<rect x="925" y="229" width="1" height="17" fill="#000"/>
<rect x="923" y="231" width="5" height="9" fill="#000"/>
<rect x="924" y="232" width="3" height="7" fill="#ff0000"/>
<rect x="931" y="228" width="1" height="10" fill="#000"/>
<rect x="929" y="235" width="5" height="1" fill="#000"/>
<rect x="937" y="237" width="1" height="12" fill="#000"/>
<rect x="935" y="240" width="5" height="1" fill="#000"/>
<rect x="943" y="243" width="1" height="8" fill="#000"/>
<rect x="941" y="243" width="5" height="4" fill="#000"/>
<rect x="942" y="244" width="3" height="2" fill="#ff0000"/>
<rect x="949" y="235" width="1" height="12" fill="#000"/>
<rect x="947" y="240" width="5" height="3" fill="#000"/>
<rect x="948" y="241" width="3" height="1" fill="#ff0000"/>
<rect x="955" y="234" width="1" height="14" fill="#000"/>
<rect x="953" y="244" width="5" height="3" fill="#000"/>
<rect x="954" y="245" width="3" height="1" fill="#ff0000"/>
<rect x="961" y="241" width="1" height="6" fill="#000"/>
<rect x="959" y="242" width="5" height="4" fill="#000"/>
<rect x="960" y="243" width="3" height="2" fill="#ff0000"/>
<rect x="967" y="242" width="1" height="8" fill="#000"/>
<rect x="965" y="242" width="5" height="3" fill="#000"/>
<rect x="966" y="243" width="3" height="1" fill="#00ff00"/>
<rect x="973" y="245" width="1" height="17" fill="#000"/>
<rect x="971" y="247" width="5" height="11" fill="#000"/>
<rect x="972" y="248" width="3" height="9" fill="#ff0000"/>
<rect x="979" y="255" width="1" height="22" fill="#000"/>
<rect x="977" y="258" width="5" height="11" fill="#000"/>
<rect x="978" y="259" width="3" height="9" fill="#ff0000"/>
<rect x="985" y="251" width="1" height="22" fill="#000"/>
<rect x="983" y="255" width="5" height="18" fill="#000"/>
<rect x="984" y="256" width="3" height="16" fill="#00ff00"/>
<rect x="991" y="249" width="1" height="16" fill="#000"/>
<rect x="989" y="251" width="5" height="9" fill="#000"/>
<rect x="990" y="252" width="3" height="7" fill="#ff0000"/>
<rect x="997" y="245" width="1" height="22" fill="#000"/>
<rect x="995" y="246" width="5" height="16" fill="#000"/>
<rect x="996" y="247" width="3" height="14" fill="#00ff00"/>
<rect x="1003" y="234" width="1" height="13" fill="#000"/>
<rect x="1001" y="239" width="5" height="5" fill="#000"/>
<rect x="1002" y="240" width="3" height="3" fill="#00ff00"/>
<rect x="1009" y="235" width="1" height="13" fill="#000"/>
<rect x="1007" y="238" width="5" height="4" fill="#000"/>
<rect x="1008" y="239" width="3" height="2" fill="#00ff00"/>
<rect x="1015" y="227" width="1" height="17" fill="#000"/>
<rect x="1013" y="230" width="5" height="11" fill="#000"/>
<rect x="1014" y="231" width="3" height="9" fill="#00ff00"/>
<rect x="1021" y="212" width="1" height="18" fill="#000"/>
<rect x="1019" y="213" width="5" height="14" fill="#000"/>
<rect x="1020" y="214" width="3" height="12" fill="#00ff00"/>
<rect x="1027" y="203" width="1" height="16" fill="#000"/>
<rect x="1025" y="205" width="5" height="8" fill="#000"/>
<rect x="1026" y="206" width="3" height="6" fill="#00ff00"/>
<rect x="1033" y="198" width="1" height="17" fill="#000"/>
<rect x="1031" y="205" width="5" height="3" fill="#000"/>
<rect x="1032" y="206" width="3" height="1" fill="#00ff00"/>
<rect x="1039" y="197" width="1" height="10" fill="#000"/>
<rect x="1037" y="201" width="5" height="5" fill="#000"/>
<rect x="1038" y="202" width="3" height="3" fill="#00ff00"/>
<rect x="1045" y="193" width="1" height="17" fill="#000"/>
<rect x="1043" y="199" width="5" height="3" fill="#000"/>
<rect x="1044" y="200" width="3" height="1" fill="#ff0000"/>
<rect x="1051" y="199" width="1" height="13" fill="#000"/>
<rect x="1049" y="201" width="5" height="8" fill="#000"/>
<rect x="1050" y="202" width="3" height="6" fill="#ff0000"/>
<rect x="1057" y="197" width="1" height="12" fill="#000"/>
<rect x="1055" y="205" width="5" height="3" fill="#000"/>
<rect x="1056" y="206" width="3" height="1" fill="#00ff00"/>
<rect x="1063" y="194" width="1" height="18" fill="#000"/>
<rect x="1061" y="203" width="5" height="5" fill="#000"/>
<rect x="1062" y="204" width="3" height="3" fill="#ff0000"/>
<rect x="1069" y="211" width="1" height="20" fill="#000"/>
<rect x="1067" y="220" width="5" height="3" fill="#000"/>
<rect x="1068" y="221" width="3" height="1" fill="#ff0000"/>
<rect x="1075" y="183" width="1" height="27" fill="#000"/>
<rect x="1073" y="195" width="5" height="10" fill="#000"/>
<rect x="1074" y="196" width="3" height="8" fill="#ff0000"/>
<rect x="1081" y="201" width="1" height="18" fill="#000"/>
<rect x="1079" y="201" width="5" height="16" fill="#000"/>
<rect x="1080" y="202" width="3" height="14" fill="#ff0000"/>
<rect x="1087" y="192" width="1" height="25" fill="#000"/>
<rect x="1085" y="194" width="5" height="20" fill="#000"/>
<rect x="1086" y="195" width="3" height="18" fill="#00ff00"/>
<rect x="1093" y="150" width="1" height="46" fill="#000"/>
<rect x="1091" y="150" width="5" height="44" fill="#000"/>
<rect x="1092" y="151" width="3" height="42" fill="#ff0000"/>
<rect x="1099" y="179" width="1" height="17" fill="#000"/>
<rect x="1097" y="190" width="5" height="4" fill="#000"/>
<rect x="1098" y="191" width="3" height="2" fill="#ff0000"/>
<rect x="1105" y="192" width="1" height="12" fill="#000"/>
<rect x="1103" y="197" width="5" height="7" fill="#000"/>
<rect x="1104" y="198" width="3" height="5" fill="#00ff00"/>
<rect x="1111" y="184" width="1" height="14" fill="#000"/>
<rect x="1109" y="186" width="5" height="7" fill="#000"/>
<rect x="1110" y="187" width="3" height="5" fill="#00ff00"/>
<rect x="1117" y="177" width="1" height="18" fill="#000"/>
<rect x="1115" y="183" width="5" height="8" fill="#000"/>
<rect x="1116" y="184" width="3" height="6" fill="#ff0000"/>
<rect x="1123" y="167" width="1" height="24" fill="#000"/>
<rect x="1121" y="169" width="5" height="20" fill="#000"/>
<rect x="1122" y="170" width="3" height="18" fill="#00ff00"/>
<rect x="1129" y="162" width="1" height="13" fill="#000"/>
<rect x="1127" y="165" width="5" height="8" fill="#000"/>
<rect x="1128" y="166" width="3" height="6" fill="#ff0000"/>
<rect x="1135" y="165" width="1" height="14" fill="#000"/>
<rect x="1133" y="172" width="5" height="2" fill="#000"/>
<rect x="1141" y="167" width="1" height="13" fill="#000"/>
<rect x="1139" y="169" width="5" height="4" fill="#000"/>
<rect x="1140" y="170" width="3" height="2" fill="#00ff00"/>
<rect x="1147" y="152" width="1" height="21" fill="#000"/>
<rect x="1145" y="162" width="5" height="7" fill="#000"/>
<rect x="1146" y="163" width="3" height="5" fill="#00ff00"/>
<rect x="1153" y="154" width="1" height="16" fill="#000"/>
<rect x="1151" y="159" width="5" height="6" fill="#000"/>
<rect x="1152" y="160" width="3" height="4" fill="#ff0000"/>
<rect x="1159" y="152" width="1" height="23" fill="#000"/>
<rect x="1157" y="153" width="5" height="12" fill="#000"/>
<rect x="1158" y="154" width="3" height="10" fill="#00ff00"/>
<rect x="1165" y="136" width="1" height="26" fill="#000"/>
<rect x="1163" y="139" width="5" height="20" fill="#000"/>
<rect x="1164" y="140" width="3" height="18" fill="#00ff00"/>
<rect x="1171" y="115" width="1" height="22" fill="#000"/>
<rect x="1169" y="118" width="5" height="19" fill="#000"/>
<rect x="1170" y="119" width="3" height="17" fill="#00ff00"/>
<rect x="1177" y="63" width="1" height="53" fill="#000"/>
<rect x="1175" y="89" width="5" height="22" fill="#000"/>
<rect x="1176" y="90" width="3" height="20" fill="#00ff00"/>
<rect x="1183" y="85" width="1" height="25" fill="#000"/>
<rect x="1181" y="85" width="5" height="19" fill="#000"/>
<rect x="1182" y="86" width="3" height="17" fill="#ff0000"/>
<rect x="1189" y="154" width="1" height="86" fill="#000"/>
<rect x="1187" y="161" width="5" height="77" fill="#000"/>
<rect x="1188" y="162" width="3" height="75" fill="#ff0000"/>
<rect x="1195" y="238" width="1" height="14" fill="#000"/>
<rect x="1193" y="244.5" width="5" height="1" fill="#000" shape-rendering="geometricPrecision"/>
<rect x="1201" y="235" width="1" height="11" fill="#000"/>
<rect x="1199" y="235" width="5" height="10" fill="#000"/>
<rect x="1200" y="236" width="3" height="8" fill="#00ff00"/>
<rect x="1207" y="234" width="1" height="8" fill="#000"/>
<rect x="1205" y="236" width="5" height="4" fill="#000"/>
<rect x="1206" y="237" width="3" height="2" fill="#ff0000"/>
<rect x="1213" y="239" width="1" height="21" fill="#000"/>
<rect x="1211" y="242" width="5" height="16" fill="#000"/>
<rect x="1212" y="243" width="3" height="14" fill="#ff0000"/>
<rect x="1219" y="256" width="1" height="21" fill="#000"/>
<rect x="1217" y="259" width="5" height="15" fill="#000"/>
<rect x="1218" y="260" width="3" height="13" fill="#ff0000"/>
<rect x="1225" y="245" width="1" height="30" fill="#000"/>
<rect x="1223" y="253" width="5" height="22" fill="#000"/>
<rect x="1224" y="254" width="3" height="20" fill="#00ff00"/>
<rect x="1231" y="250" width="1" height="8" fill="#000"/>
<rect x="1229" y="255" width="5" height="1" fill="#000"/>
</g>
<clipPath id="cb"><rect x="35" y="163" width="5" height="14"/><rect x="37" y="163" width="1" height="17"/><rect x="41" y="180" width="5" height="28"/><rect x="43" y="180" width="1" height="32"/><rect x="47" y="205" width="5" height="6"/><rect x="49" y="202" width="1" height="23"/><rect x="53" y="210" width="5" height="4"/><rect x="55" y="197" width="1" height="20"/><rect x="59" y="195" width="5" height="6"/><rect x="61" y="187" width="1" height="19"/><rect x="65" y="190" width="5" height="16"/><rect x="67" y="185" width="1" height="28"/><rect x="71" y="204" width="5" height="7"/><rect x="73" y="197" width="1" height="22"/><rect x="79" y="194" width="1" height="13"/><rect x="83" y="188" width="5" height="15"/><rect x="85" y="188" width="1" height="15"/><rect x="91" y="178" width="1" height="15"/><rect x="95" y="174" width="5" height="26"/><rect x="97" y="174" width="1" height="26"/><rect x="101" y="167" width="5" height="13"/><rect x="103" y="155" width="1" height="33"/><rect x="109" y="177" width="1" height="25"/><rect x="113" y="180" width="5" height="7"/><rect x="115" y="179" width="1" height="24"/><rect x="119" y="182" width="5" height="21"/><rect x="121" y="182" width="1" height="26"/><rect x="125" y="207" width="5" height="3"/><rect x="127" y="195" width="1" height="20"/><rect x="131" y="188" width="5" height="20"/><rect x="133" y="182" width="1" height="31"/><rect x="137" y="169" width="5" height="15"/><rect x="139" y="165" width="1" height="29"/><rect x="145" y="157" width="1" height="21"/><rect x="149" y="142" width="5" height="31"/><rect x="151" y="116" width="1" height="59"/><rect x="155" y="119" width="5" height="10"/><rect x="157" y="111" width="1" height="26"/><rect x="161" y="111" width="5" height="5"/><rect x="163" y="107" width="1" height="23"/><rect x="167" y="92" width="5" height="18"/><rect x="169" y="89" width="1" height="21"/><rect x="173" y="94" width="5" height="12"/><rect x="175" y="92" width="1" height="18"/><rect x="181" y="95" width="1" height="20"/><rect x="185" y="98" width="5" height="20"/><rect x="187" y="95" width="1" height="26"/><rect x="191" y="104" width="5" height="9"/><rect x="193" y="104" width="1" height="18"/><rect x="197" y="97" width="5" height="11"/><rect x="199" y="94" width="1" height="19"/><rect x="203" y="107" width="5" height="6"/><rect x="205" y="102" width="1" height="13"/><rect x="209" y="116" width="5" height="23"/><rect x="211" y="106" width="1" height="44"/><rect x="215" y="140" width="5" height="4"/><rect x="217" y="130" width="1" height="21"/><rect x="221" y="145" width="5" height="4"/><rect x="223" y="143" width="1" height="14"/><rect x="227" y="143" width="5" height="10"/><rect x="229" y="137" width="1" height="18"/><rect x="233" y="147" width="5" height="4"/><rect x="235" y="140" width="1" height="16"/><rect x="239" y="151" width="5" height="11"/><rect x="241" y="151" width="1" height="20"/><rect x="245" y="163" width="5" height="4"/><rect x="247" y="158" width="1" height="13"/><rect x="251" y="165" width="5" height="13"/><rect x="253" y="164" width="1" height="21"/><rect x="257" y="173" width="5" height="9"/><rect x="259" y="170" width="1" height="16"/><rect x="263" y="155" width="5" height="11"/><rect x="265" y="152" width="1" height="21"/><rect x="271" y="157" width="1" height="13"/><rect x="275" y="171" width="5" height="32"/><rect x="277" y="169" width="1" height="49"/><rect x="283" y="196" width="1" height="21"/><rect x="289" y="195" width="1" height="24"/><rect x="293" y="183" width="5" height="19"/><rect x="295" y="172" width="1" height="30"/><rect x="299" y="159" width="5" height="17"/><rect x="301" y="152" width="1" height="28"/><rect x="305" y="144" width="5" height="6"/><rect x="307" y="135" width="1" height="22"/><rect x="311" y="139" width="5" height="6"/><rect x="313" y="137" width="1" height="13"/><rect x="317" y="131" width="5" height="26"/><rect x="319" y="116" width="1" height="41"/><rect x="323" y="161" width="5" height="49"/><rect x="325" y="161" width="1" height="49"/><rect x="331" y="216" width="1" height="21"/><rect x="335" y="210" width="5" height="15"/><rect x="337" y="193" width="1" height="36"/><rect x="343" y="204" width="1" height="13"/><rect x="349" y="205" width="1" height="12"/><rect x="353" y="215" width="5" height="5"/><rect x="355" y="205" width="1" height="15"/><rect x="359" y="205" width="5" height="16"/><rect x="361" y="199" width="1" height="23"/><rect x="365" y="204" width="5" height="3"/><rect x="367" y="197" width="1" height="16"/><rect x="371" y="204" width="5" height="8"/><rect x="373" y="199" width="1" height="17"/><rect x="377" y="211" width="5" height="7"/><rect x="379" y="206" width="1" height="16"/><rect x="383" y="213" width="5" height="14"/><rect x="385" y="213" width="1" height="17"/><rect x="389" y="221" width="5" height="4"/><rect x="391" y="214" width="1" height="13"/><rect x="395" y="210" width="5" height="7"/><rect x="397" y="209" width="1" height="13"/><rect x="401" y="210" width="5" height="6"/><rect x="403" y="199" width="1" height="19"/><rect x="407" y="206" width="5" height="4"/><rect x="409" y="199" width="1" height="22"/><rect x="413" y="211" width="5" height="15"/><rect x="415" y="209" width="1" height="20"/><rect x="419" y="204" width="5" height="21"/><rect x="421" y="200" width="1" height="25"/><rect x="427" y="200" width="1" height="7"/><rect x="431" y="204" width="5" height="3"/><rect x="433" y="203" width="1" height="4"/><rect x="437" y="183" width="5" height="21"/><rect x="439" y="181" width="1" height="25"/><rect x="443" y="183" width="5" height="3"/><rect x="445" y="181" width="1" height="11"/><rect x="449" y="176" width="5" height="9"/><rect x="451" y="174" width="1" height="17"/><rect x="455" y="173" width="5" height="4"/><rect x="457" y="162" width="1" height="20"/><rect x="463" y="167" width="1" height="15"/><rect x="469" y="171" width="1" height="14"/><rect x="473" y="170" width="5" height="12"/><rect x="475" y="169" width="1" height="18"/><rect x="479" y="153" width="5" height="13"/><rect x="481" y="144" width="1" height="28"/><rect x="485" y="148" width="5" height="4"/><rect x="487" y="145" width="1" height="13"/><rect x="491" y="153" width="5" height="10"/><rect x="493" y="146" width="1" height="20"/><rect x="497" y="152" width="5" height="9"/><rect x="499" y="152" width="1" height="14"/><rect x="503" y="151" width="5" height="7"/><rect x="505" y="148" width="1" height="10"/><rect x="509" y="156" width="5" height="5"/><rect x="511" y="153" width="1" height="10"/><rect x="515" y="156" width="5" height="8"/><rect x="517" y="154" width="1" height="16"/><rect x="521" y="163" width="5" height="7"/><rect x="523" y="156" width="1" height="17"/><rect x="527" y="166" width="5" height="3"/><rect x="529" y="164" width="1" height="6"/><rect x="533" y="165" width="5" height="4"/><rect x="535" y="160" width="1" height="17"/><rect x="541" y="161" width="1" height="16"/><rect x="545" y="152" width="5" height="12"/><rect x="547" y="152" width="1" height="12"/><rect x="551" y="152" width="5" height="5"/><rect x="553" y="140" width="1" height="19"/><rect x="557" y="145" width="5" height="3"/><rect x="559" y="144" width="1" height="6"/><rect x="563" y="141" width="5" height="7"/><rect x="565" y="138" width="1" height="13"/><rect x="569" y="153" width="5" height="3"/><rect x="571" y="150" width="1" height="13"/><rect x="575" y="143" width="5" height="15"/><rect x="577" y="141" width="1" height="18"/><rect x="581" y="137" width="5" height="11"/><rect x="583" y="137" width="1" height="13"/><rect x="587" y="142" width="5" height="32"/><rect x="589" y="137" width="1" height="40"/><rect x="595" y="165" width="1" height="14"/><rect x="599" y="174" width="5" height="5"/><rect x="601" y="162" width="1" height="17"/><rect x="605" y="164" width="5" height="10"/><rect x="607" y="161" width="1" height="16"/><rect x="611" y="162" width="5" height="16"/><rect x="613" y="161" width="1" height="21"/><rect x="617" y="173" width="5" height="5"/><rect x="619" y="167" width="1" height="15"/><rect x="623" y="173" width="5" height="22"/><rect x="625" y="164" width="1" height="41"/><rect x="629" y="183" width="5" height="11"/><rect x="631" y="179" width="1" height="18"/><rect x="635" y="195" width="5" height="12"/><rect x="637" y="190" width="1" height="27"/><rect x="641" y="181" width="5" height="24"/><rect x="643" y="173" width="1" height="35"/><rect x="647" y="179" width="5" height="6"/><rect x="649" y="172" width="1" height="20"/><rect x="653" y="163" width="5" height="56"/><rect x="655" y="160" width="1" height="59"/><rect x="659" y="159" width="5" height="18"/><rect x="661" y="146" width="1" height="31"/><rect x="665" y="162" width="5" height="17"/><rect x="667" y="156" width="1" height="34"/><rect x="671" y="174" width="5" height="8"/><rect x="673" y="173" width="1" height="15"/><rect x="677" y="168" width="5" height="7"/><rect x="679" y="166" width="1" height="13"/><rect x="685" y="163" width="1" height="12"/><rect x="689" y="164" width="5" height="3"/><rect x="691" y="162" width="1" height="10"/><rect x="695" y="163" width="5" height="6"/><rect x="697" y="163" width="1" height="15"/><rect x="703" y="155" width="1" height="10"/><rect x="707" y="157" width="5" height="5"/><rect x="709" y="155" width="1" height="11"/><rect x="713" y="154" width="5" height="5"/><rect x="715" y="153" width="1" height="16"/><rect x="719" y="162" width="5" height="3"/><rect x="721" y="156" width="1" height="14"/><rect x="725" y="161" width="5" height="4"/><rect x="727" y="160" width="1" height="10"/><rect x="731" y="155" width="5" height="5"/><rect x="733" y="150" width="1" height="16"/><rect x="737" y="160" width="5" height="16"/><rect x="739" y="158" width="1" height="20"/><rect x="745" y="181" width="1" height="18"/><rect x="749" y="184" width="5" height="18"/><rect x="751" y="182" width="1" height="23"/><rect x="755" y="246" width="5" height="50"/><rect x="757" y="225" width="1" height="72"/><rect x="761" y="309" width="5" height="4"/><rect x="763" y="295" width="1" height="26"/><rect x="767" y="297" width="5" height="11"/><rect x="769" y="290" width="1" height="18"/><rect x="773" y="293" width="5" height="14"/><rect x="775" y="290" width="1" height="28"/><rect x="779" y="308" width="5" height="17"/><rect x="781" y="308" width="1" height="19"/><rect x="785" y="326" width="5" height="4"/><rect x="787" y="314" width="1" height="23"/><rect x="791" y="325" width="5" height="19"/><rect x="793" y="323" width="1" height="31"/><rect x="797" y="326" width="5" height="13"/><rect x="799" y="325" width="1" height="18"/><rect x="803" y="313" width="5" height="15"/><rect x="805" y="302" width="1" height="36"/><rect x="809" y="306" width="5" height="12"/><rect x="811" y="306" width="1" height="18"/><rect x="815" y="309" width="5" height="3"/><rect x="817" y="303" width="1" height="17"/><rect x="821" y="289" width="5" height="21"/><rect x="823" y="285" width="1" height="29"/><rect x="827" y="246" width="5" height="41"/><rect x="829" y="227" width="1" height="60"/><rect x="833" y="247" width="5" height="4"/><rect x="835" y="232" width="1" height="19"/><rect x="839" y="239" width="5" height="14"/><rect x="841" y="236" width="1" height="20"/><rect x="845" y="244" width="5" height="6"/><rect x="847" y="235" width="1" height="23"/><rect x="853" y="239" width="1" height="13"/><rect x="857" y="250" width="5" height="8"/><rect x="859" y="239" width="1" height="20"/><rect x="863" y="260" width="5" height="11"/><rect x="865" y="258" width="1" height="14"/><rect x="869" y="272" width="5" height="12"/><rect x="871" y="270" width="1" height="16"/><rect x="877" y="285" width="1" height="15"/><rect x="881" y="270" width="5" height="15"/><rect x="883" y="270" width="1" height="18"/><rect x="889" y="267" width="1" height="17"/><rect x="893" y="264" width="5" height="8"/><rect x="895" y="260" width="1" height="15"/><rect x="899" y="237" width="5" height="14"/><rect x="901" y="231" width="1" height="25"/><rect x="905" y="220" width="5" height="17"/><rect x="907" y="216" width="1" height="23"/><rect x="911" y="217" width="5" height="10"/><rect x="913" y="211" width="1" height="19"/><rect x="919" y="218" width="1" height="20"/><rect x="923" y="231" width="5" height="9"/><rect x="925" y="229" width="1" height="17"/><rect x="931" y="228" width="1" height="10"/><rect x="937" y="237" width="1" height="12"/><rect x="941" y="243" width="5" height="4"/><rect x="943" y="243" width="1" height="8"/><rect x="947" y="240" width="5" height="3"/><rect x="949" y="235" width="1" height="12"/><rect x="953" y="244" width="5" height="3"/><rect x="955" y="234" width="1" height="14"/><rect x="959" y="242" width="5" height="4"/><rect x="961" y="241" width="1" height="6"/><rect x="965" y="242" width="5" height="3"/><rect x="967" y="242" width="1" height="8"/><rect x="971" y="247" width="5" height="11"/><rect x="973" y="245" width="1" height="17"/><rect x="977" y="258" width="5" height="11"/><rect x="979" y="255" width="1" height="22"/><rect x="983" y="255" width="5" height="18"/><rect x="985" y="251" width="1" height="22"/><rect x="989" y="251" width="5" height="9"/><rect x="991" y="249" width="1" height="16"/><rect x="995" y="246" width="5" height="16"/><rect x="997" y="245" width="1" height="22"/><rect x="1001" y="239" width="5" height="5"/><rect x="1003" y="234" width="1" height="13"/><rect x="1007" y="238" width="5" height="4"/><rect x="1009" y="235" width="1" height="13"/><rect x="1013" y="230" width="5" height="11"/><rect x="1015" y="227" width="1" height="17"/><rect x="1019" y="213" width="5" height="14"/><rect x="1021" y="212" width="1" height="18"/><rect x="1025" y="205" width="5" height="8"/><rect x="1027" y="203" width="1" height="16"/><rect x="1031" y="205" width="5" height="3"/><rect x="1033" y="198" width="1" height="17"/><rect x="1037" y="201" width="5" height="5"/><rect x="1039" y="197" width="1" height="10"/><rect x="1043" y="199" width="5" height="3"/><rect x="1045" y="193" width="1" height="17"/><rect x="1049" y="201" width="5" height="8"/><rect x="1051" y="199" width="1" height="13"/><rect x="1055" y="205" width="5" height="3"/><rect x="1057" y="197" width="1" height="12"/><rect x="1061" y="203" width="5" height="5"/><rect x="1063" y="194" width="1" height="18"/><rect x="1067" y="220" width="5" height="3"/><rect x="1069" y="211" width="1" height="20"/><rect x="1073" y="195" width="5" height="10"/><rect x="1075" y="183" width="1" height="27"/><rect x="1079" y="201" width="5" height="16"/><rect x="1081" y="201" width="1" height="18"/><rect x="1085" y="194" width="5" height="20"/><rect x="1087" y="192" width="1" height="25"/><rect x="1091" y="150" width="5" height="44"/><rect x="1093" y="150" width="1" height="46"/><rect x="1097" y="190" width="5" height="4"/><rect x="1099" y="179" width="1" height="17"/><rect x="1103" y="197" width="5" height="7"/><rect x="1105" y="192" width="1" height="12"/><rect x="1109" y="186" width="5" height="7"/><rect x="1111" y="184" width="1" height="14"/><rect x="1115" y="183" width="5" height="8"/><rect x="1117" y="177" width="1" height="18"/><rect x="1121" y="169" width="5" height="20"/><rect x="1123" y="167" width="1" height="24"/><rect x="1127" y="165" width="5" height="8"/><rect x="1129" y="162" width="1" height="13"/><rect x="1135" y="165" width="1" height="14"/><rect x="1139" y="169" width="5" height="4"/><rect x="1141" y="167" width="1" height="13"/><rect x="1145" y="162" width="5" height="7"/><rect x="1147" y="152" width="1" height="21"/><rect x="1151" y="159" width="5" height="6"/><rect x="1153" y="154" width="1" height="16"/><rect x="1157" y="153" width="5" height="12"/><rect x="1159" y="152" width="1" height="23"/><rect x="1163" y="139" width="5" height="20"/><rect x="1165" y="136" width="1" height="26"/><rect x="1169" y="118" width="5" height="19"/><rect x="1171" y="115" width="1" height="22"/><rect x="1175" y="89" width="5" height="22"/><rect x="1177" y="63" width="1" height="53"/><rect x="1181" y="85" width="5" height="19"/><rect x="1183" y="85" width="1" height="25"/><rect x="1187" y="161" width="5" height="77"/><rect x="1189" y="154" width="1" height="86"/><rect x="1195" y="238" width="1" height="14"/><rect x="1199" y="235" width="5" height="10"/><rect x="1201" y="235" width="1" height="11"/><rect x="1205" y="236" width="5" height="4"/><rect x="1207" y="234" width="1" height="8"/><rect x="1211" y="242" width="5" height="16"/><rect x="1213" y="239" width="1" height="21"/><rect x="1217" y="259" width="5" height="15"/><rect x="1219" y="256" width="1" height="21"/><rect x="1223" y="253" width="5" height="22"/><rect x="1225" y="245" width="1" height="30"/><rect x="1231" y="250" width="1" height="8"/></clipPath>
<g opacity="0.5" clip-path="url(#cb)">
<path d="M35 332.5 L55 328.25 L80 324.25 L105 319.5 L130 315 L157.5 308.25 L180 302 L205 295 L230 289.5 L242.5 286.25 L267.5 280.75 L290 277 L310 273.75 L330 270.2 L340 269.2 L365 266 L390 263.5 L410 261.7 L427.5 260.5 L452.5 256.7 L477.5 253.4 L502.5 250.4 L515 247.2 L540 241.7 L557.5 238.4 L590 233.6 L600 231.9 L630 227 L655 224 L680 221.2 L705 218.8 L730 215.8 L745 214.5 L770 214 L805 214 L830 213.5 L855 212.5 L880 211 L905 210 L930 208.5 L955 207 L980 205 L1005 203 L1030 202.6 L1055 200 L1074 198.8 L1105 198.5 L1142 198.5 L1155 197.3 L1174 196.9 L1190 196.3 L1205 197 L1231.6 199.6" fill="none" stroke="#f2d998" stroke-width="0.92" stroke-linejoin="round"/>
<path d="M35 247.5 L53.75 240 L80 230 L105 220 L127.5 208.5 L147.5 200 L157.5 195.5 L167.5 190 L181 180 L190 177 L205 172.5 L230 170 L255 167.5 L277.5 167 L290 169.5 L300 168 L312.5 165 L325 165 L337.5 167 L350 168 L380 168.5 L410 172 L440 173 L460 175.5 L480 180 L505 183.5 L530 186 L550 186 L570 183.5 L590 181 L610 182 L620 183 L635 182 L645 181 L660 180 L680 176 L705 172.5 L730 168.5 L751 168 L762.5 172.5 L775 177.5 L790 187.5 L805 196 L820 203 L840 208 L855 213.5 L870 220 L890 226 L905 231 L920 234.5 L935 237 L950 240 L962.5 241 L992.5 250 L1030 258.5 L1050 260 L1070 253.5 L1090 245 L1110 236 L1130 230 L1150 224.5 L1165 218.5 L1180 211 L1187.5 208.5 L1205 208 L1220 210 L1231.6 210.5" fill="none" stroke="#ff9840" stroke-width="0.92" stroke-linejoin="round"/>
<path d="M35 184 L41 185.5 L47.5 187 L67.5 187 L80 190 L100 192 L130 192.5 L150 190.5 L157.5 187.5 L167.5 180 L180 168.75 L190 160.6 L205 147 L220 141 L245 135.5 L265 134 L272.5 136 L290 150 L302.5 157.5 L315 160.6 L322.5 163.75 L330 171 L342.5 177.5 L355 183.5 L375 191 L392.5 199 L405 200 L420 205 L440 212.5 L465 204.5 L480 199.5 L493.75 194 L508.75 184.7 L520 177.5 L540 169.5 L555 165.3 L570 161.3 L585 158 L595 158 L612.5 161 L630 165 L645 168 L655 172 L670 175 L687.5 176.3 L700 177.2 L717.5 176.8 L730 175 L740 173.8 L750 174.25 L753 175 L765 186 L775 194.5 L785 207.5 L800 228 L815 246 L830 261 L847.5 275 L862.5 285 L871 291 L882.5 288.5 L895 285 L907.5 275 L920 263.5 L930 256 L940 251 L955 250.5 L980 251 L995 247.5 L1015 242.5 L1030 240 L1050 233.5 L1071 230 L1090 223 L1105 215.5 L1117.5 208.75 L1125 203.75 L1136 198.5 L1155 192 L1167.5 185 L1173.75 180 L1182.5 172 L1190 171 L1205 175 L1220 183.5 L1231.6 190.3" fill="none" stroke="#ef98e5" stroke-width="0.92" stroke-linejoin="round"/>
</g>
<path d="M35 100.5H1232" stroke="#8080e2" stroke-width="1" shape-rendering="crispEdges"/>
<rect x="163.5" y="78.7" width="1068.5" height="1.3" fill="#c044d0"/>
</svg>
<div class="tk">CLVT</div>
<div class="hd" style="left:143px">Jun 18</div>
<div class="hd" style="left:192.5px">O:25.52</div>
<div class="hd" style="left:236.5px">H:25.81</div>
<div class="hd" style="left:280px">L:25.44</div>
<div class="hd" style="left:321.7px">C:25.51</div>
<div class="hd" style="left:376.8px">Vol:2.02M</div>
<div class="chg">-0.13 (0.51%)</div>
<div class="s" style="top:41px;color:#ee99e0;-webkit-text-stroke:0.3px #ee99e0">SMA 20</div>
<div class="s" style="top:53px;color:#ff9646;-webkit-text-stroke:0.5px #ff9646">SMA 50</div>
<div class="s" style="top:65px;color:#f0dca0;-webkit-text-stroke:0.3px #f0dca0">SMA 200</div>
<div class="daily">DAILY</div>
<div class="ax" style="top:32.0px">36.00</div><div class="ax" style="top:73.5px">34.00</div><div class="ax" style="top:115.0px">32.00</div><div class="ax" style="top:156.5px">30.00</div><div class="ax" style="top:198.0px">28.00</div><div class="ax" style="top:239.5px">26.00</div><div class="ax" style="top:281.0px">24.00</div><div class="ax" style="top:322.5px">22.00</div><div class="ax" style="top:364.0px">20.00</div><div class="mo" style="left:126.80000000000001px">Oct</div><div class="mo" style="left:258.8px">Nov</div><div class="mo" style="left:378.8px">Dec</div><div class="mo" style="left:510.79999999999995px">2021</div><div class="mo" style="left:624.8px">Feb</div><div class="mo" style="left:738.8px">Mar</div><div class="mo" style="left:876.8px">Apr</div><div class="mo" style="left:1002.8px">May</div><div class="mo" style="left:1122.8px">Jun</div><div class="vl" style="top:304.2px">40M</div><div class="vl" style="top:319.2px">30M</div><div class="vl" style="top:333.7px">20M</div><div class="vl" style="top:348.7px">10M</div>
<div class="last"></div><div class="lastt">25.51</div>
</body></html>
